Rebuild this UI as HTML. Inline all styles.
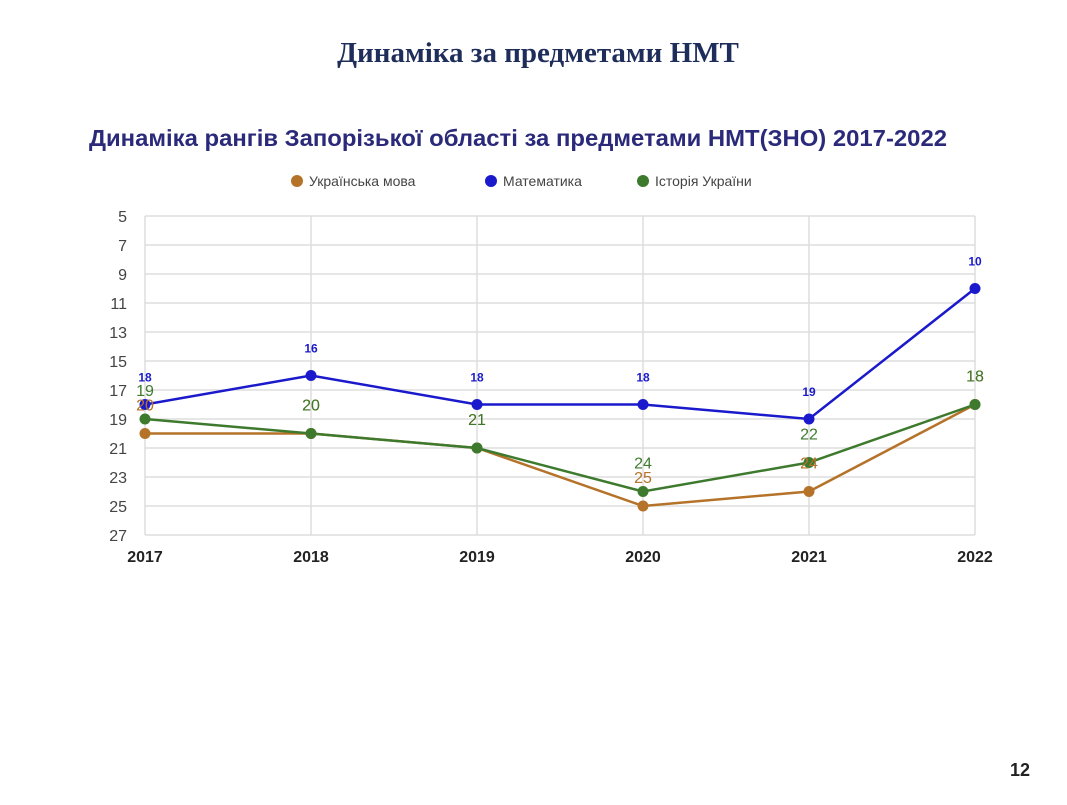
<!DOCTYPE html>
<html><head><meta charset="utf-8">
<style>
body{margin:0;width:1067px;height:800px;background:#fff;overflow:hidden;font-family:"Liberation Sans",sans-serif}
</style></head>
<body>
<svg width="1067" height="800">
<text x="538" y="62" text-anchor="middle" font-family="Liberation Serif,serif" font-weight="bold" font-size="29" fill="#1f2d5a">Динаміка за предметами НМТ</text>
<text x="518" y="146" text-anchor="middle" font-weight="bold" font-size="23" fill="#2b2a7a" textLength="858" lengthAdjust="spacingAndGlyphs">Динаміка рангів Запорізької області за предметами НМТ(ЗНО) 2017-2022</text>
<g font-size="14" fill="#444">
<g><circle cx="297" cy="181" r="6" fill="#b5732a"/><text x="309" y="186">Українська мова</text></g>
<g><circle cx="491" cy="181" r="6" fill="#1a1acc"/><text x="503" y="186">Математика</text></g>
<g><circle cx="643" cy="181" r="6" fill="#3e7a2e"/><text x="655" y="186">Історія України</text></g>
</g>
<g id="grid"></g>
<g id="series"></g>
<text x="1020" y="776" text-anchor="middle" font-weight="bold" font-size="18" fill="#222">12</text>
</svg>
<script>
const years=["2017","2018","2019","2020","2021","2022"];
const ukr=[20,20,21,25,24,18];
const math=[18,16,18,18,19,10];
const hist=[19,20,21,24,22,18];
const yTicks=[5,7,9,11,13,15,17,19,21,23,25,27];
const NS="http://www.w3.org/2000/svg";
const x0=145,x1=975,yTop=216,yBot=535,vMin=5,vMax=27;
const xs=i=>x0+i*(x1-x0)/(years.length-1);
const ys=v=>yTop+(v-vMin)*(yBot-yTop)/(vMax-vMin);
function mk(t,a,p){const e=document.createElementNS(NS,t);for(const k in a)e.setAttribute(k,a[k]);p.appendChild(e);return e;}
const g=document.getElementById('grid');
yTicks.forEach(v=>{
 const l=mk('line',{x1:x0,x2:x1,y1:ys(v),y2:ys(v),stroke:'#ddd','stroke-width':1.5},g);
 
 
 const t=mk('text',{x:127,y:ys(v)+6,'text-anchor':'end','font-size':16,fill:'#444'},g);
 t.textContent=v;
 
 
});
years.forEach((y,i)=>{
 const l=mk('line',{x1:xs(i),x2:xs(i),y1:yTop,y2:yBot,stroke:'#ddd','stroke-width':1.5},g);
 
 
 const t=mk('text',{x:xs(i),y:562,'text-anchor':'middle','font-size':16,'font-weight':'bold',fill:'#222'},g);
 t.textContent=y;
 
 
});
const sg=document.getElementById('series');
function series(data,color,name){
 const p=mk('polyline',{points:data.map((v,i)=>xs(i)+','+ys(v)).join(' '),fill:'none',stroke:color,'stroke-width':2.5},sg);
 
 
 data.forEach((v,i)=>{
  const c=mk('circle',{cx:xs(i),cy:ys(v),r:5.5,fill:color},sg);
  
  
 });
}
function labels(data,color,name,bold,fs){
 data.forEach((v,i)=>{
  const t=mk('text',{x:xs(i),y:ys(v)-23,'text-anchor':'middle','font-size':fs,'font-weight':bold?'bold':'normal',fill:color},sg);
  t.textContent=v;
  
  
 });
}
series(ukr,'#b5732a','ukr');
series(hist,'#3e7a2e','hist');
series(math,'#1a1acc','math');
labels(ukr,'#b5732a','ukr',false,16);
labels(hist,'#3e7a2e','hist',false,16);
labels(math,'#1a1acc','math',true,12);
</script>
</body></html>
